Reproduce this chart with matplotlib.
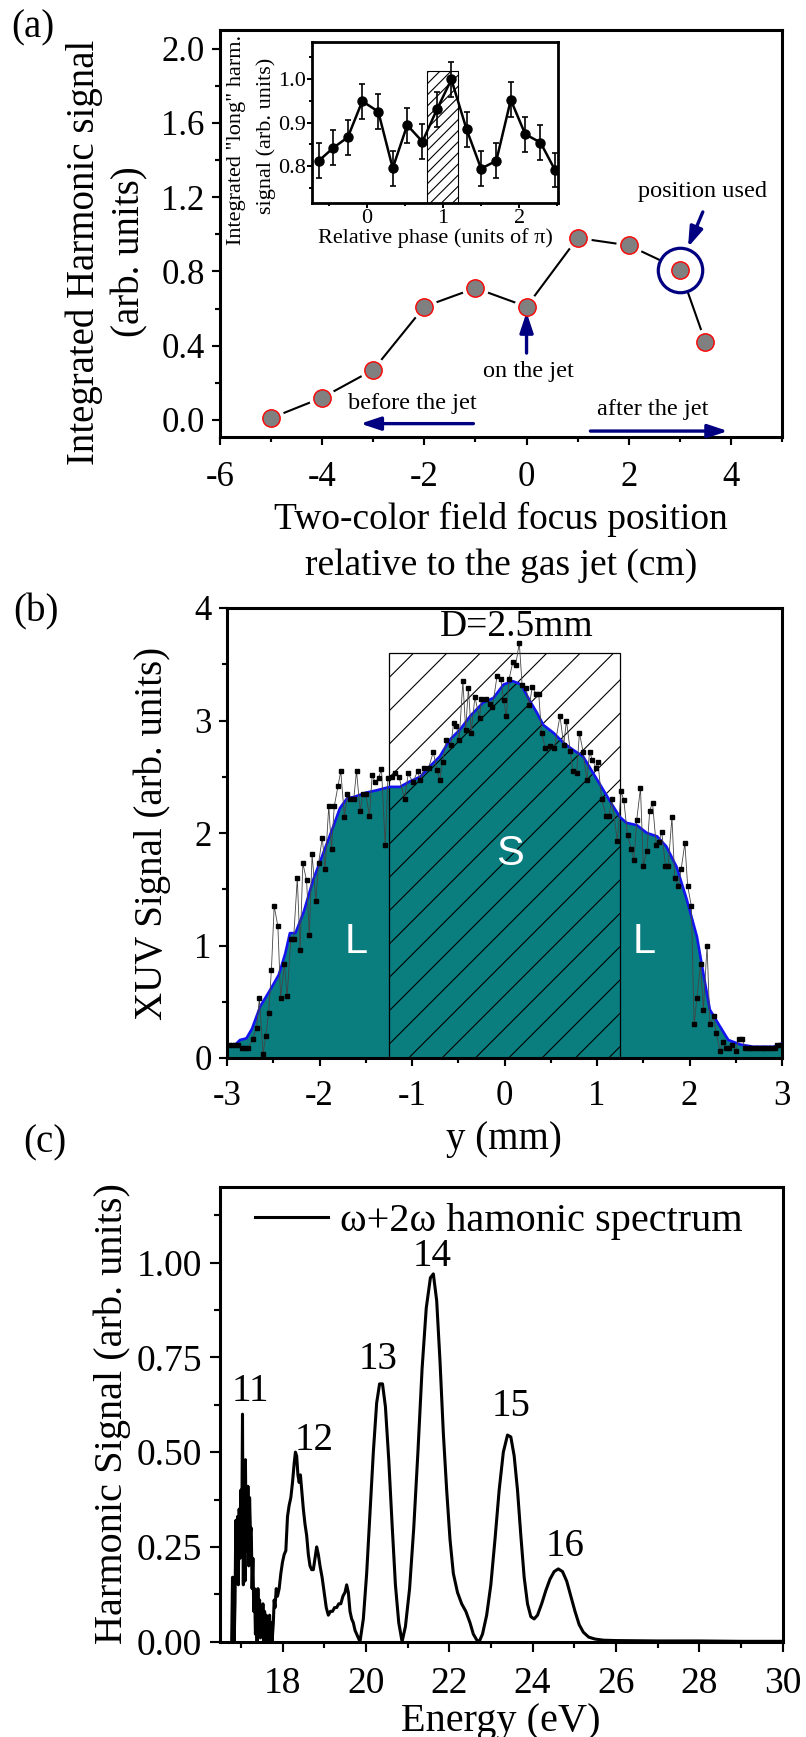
import matplotlib
matplotlib.use('Agg')
import matplotlib.pyplot as plt
from matplotlib.ticker import MultipleLocator, FormatStrFormatter

plt.rcParams['font.family'] = ['Liberation Serif', 'DejaVu Serif']
plt.rcParams['axes.unicode_minus'] = False
plt.rcParams['hatch.linewidth'] = 0.8

# ---- panel (a): focus position scan
focus_cm = [-5, -4, -3, -2, -1, 0, 1, 2, 3, 3.5]
harm_signal = [0.01, 0.12, 0.27, 0.61, 0.71, 0.61, 0.98, 0.94, 0.81, 0.42]
used_idx = 8

# inset: relative phase scan
phase_pi = [-0.63, -0.44, -0.25, -0.06, 0.15, 0.34, 0.53, 0.73, 0.92,
            1.11, 1.31, 1.50, 1.70, 1.89, 2.08, 2.28, 2.47]
long_signal = [0.812, 0.842, 0.866, 0.949, 0.925, 0.795, 0.894, 0.856, 0.930,
               0.999, 0.884, 0.794, 0.812, 0.952, 0.873, 0.854, 0.791]
long_err = [0.040, 0.040, 0.040, 0.040, 0.040, 0.040, 0.040, 0.040, 0.040,
            0.040, 0.040, 0.040, 0.040, 0.040, 0.040, 0.040, 0.040]
phase_band = [0.785, 1.20]
phase_band_top = 1.018

# ---- panel (b): XUV profile
prof_y = [-2.98, -2.95, -2.91, -2.88, -2.84, -2.81, -2.77, -2.72, -2.68, -2.65,
          -2.61, -2.58, -2.55, -2.52, -2.49, -2.45, -2.42, -2.38, -2.35, -2.31,
          -2.28, -2.24, -2.21, -2.18, -2.14, -2.11, -2.08, -2.04, -2.01, -1.97,
          -1.94, -1.90, -1.87, -1.84, -1.80, -1.77, -1.73, -1.70, -1.67, -1.63,
          -1.60, -1.56, -1.53, -1.50, -1.46, -1.43, -1.40, -1.36, -1.33, -1.29,
          -1.26, -1.22, -1.18, -1.14, -1.08, -1.04, -0.99, -0.94, -0.91, -0.87,
          -0.82, -0.77, -0.73, -0.70, -0.67, -0.63, -0.58, -0.55, -0.52, -0.49,
          -0.45, -0.42, -0.39, -0.36, -0.32, -0.27, -0.25, -0.20, -0.16, -0.13,
          -0.08, -0.04, -0.01, 0.02, 0.05, 0.09, 0.12, 0.16, 0.19, 0.23,
          0.27, 0.30, 0.34, 0.37, 0.40, 0.44, 0.49, 0.54, 0.60, 0.64,
          0.67, 0.71, 0.74, 0.78, 0.81, 0.85, 0.89, 0.92, 0.95, 0.99,
          1.01, 1.05, 1.10, 1.13, 1.16, 1.22, 1.26, 1.29, 1.33, 1.37,
          1.40, 1.43, 1.47, 1.50, 1.54, 1.57, 1.60, 1.64, 1.67, 1.70,
          1.74, 1.77, 1.81, 1.84, 1.88, 1.91, 1.95, 1.98, 2.02, 2.05,
          2.08, 2.12, 2.15, 2.19, 2.22, 2.26, 2.29, 2.33, 2.36, 2.39,
          2.43, 2.46, 2.50, 2.53, 2.57, 2.60, 2.64, 2.67, 2.71, 2.74,
          2.78, 2.81, 2.85, 2.88, 2.92, 2.95, 2.98]
prof_sig = [0.12, 0.12, 0.12, 0.12, 0.09, 0.09, 0.09, 0.17, 0.27, 0.53,
            0.04, 0.20, 0.40, 0.78, 1.35, 1.17, 0.53, 0.84, 0.55, 1.06,
            1.06, 1.60, 0.96, 1.73, 1.58, 1.09, 1.81, 1.40, 1.73, 1.96,
            1.68, 2.24, 1.86, 2.24, 2.42, 2.55, 2.14, 2.35, 2.30, 2.30,
            2.55, 2.20, 2.35, 2.35, 2.15, 2.52, 2.45, 2.49, 2.57, 1.89,
            2.49, 2.50, 2.53, 2.50, 2.30, 2.53, 2.45, 2.55, 2.47, 2.58,
            2.58, 2.72, 2.56, 2.47, 2.63, 2.83, 2.78, 2.98, 2.95, 2.83,
            3.35, 2.92, 3.29, 2.89, 3.21, 3.02, 3.19, 3.19, 3.15, 3.12,
            3.40, 3.37, 3.18, 3.04, 3.37, 3.52, 3.49, 3.69, 3.32, 3.29,
            3.14, 3.30, 3.24, 3.24, 2.89, 2.76, 2.77, 2.76, 3.04, 2.78,
            3.00, 2.73, 2.55, 2.53, 2.89, 2.72, 2.47, 2.72, 2.65, 2.58,
            2.63, 2.30, 2.15, 2.15, 2.30, 1.93, 2.37, 2.29, 1.98, 1.86,
            1.76, 2.12, 2.40, 1.71, 1.84, 2.20, 2.27, 1.89, 1.92, 2.01,
            1.71, 1.71, 2.14, 1.60, 1.53, 1.68, 1.91, 1.53, 1.35, 0.30,
            0.53, 0.84, 0.43, 1.00, 0.30, 0.37, 0.22, 0.06, 0.14, 0.09,
            0.09, 0.12, 0.06, 0.17, 0.17, 0.09, 0.09, 0.09, 0.09, 0.09,
            0.09, 0.09, 0.09, 0.09, 0.09, 0.12, 0.12]

smooth_y = [-3.00, -2.92, -2.86, -2.79, -2.73, -2.64, -2.53, -2.44, -2.37, -2.32,
            -2.26, -2.17, -2.07, -1.96, -1.85, -1.78, -1.70, -1.63, -1.49, -1.38,
            -1.24, -1.13, -1.02, -0.91, -0.81, -0.70, -0.59, -0.48, -0.37, -0.23,
            -0.12, -0.01, 0.09, 0.18, 0.27, 0.35, 0.42, 0.53, 0.64, 0.74,
            0.85, 0.96, 1.07, 1.18, 1.25, 1.32, 1.43, 1.54, 1.65, 1.75,
            1.86, 1.97, 2.08, 2.15, 2.22, 2.33, 2.42, 2.55, 2.69, 2.91, 3.00]
smooth_sig = [0.11, 0.11, 0.16, 0.175, 0.26, 0.46, 0.61, 0.74, 0.93, 1.11,
              1.11, 1.30, 1.58, 1.82, 2.06, 2.22, 2.31, 2.32, 2.36, 2.38,
              2.41, 2.41, 2.46, 2.50, 2.59, 2.68, 2.83, 2.92, 3.04, 3.16,
              3.20, 3.32, 3.35, 3.32, 3.18, 3.07, 2.96, 2.89, 2.80, 2.74,
              2.68, 2.53, 2.38, 2.23, 2.14, 2.09, 2.07, 2.00, 1.97, 1.88,
              1.70, 1.41, 1.08, 0.75, 0.43, 0.28, 0.16, 0.12, 0.10, 0.10, 0.13]
short_zone = [-1.25, 1.25]
short_zone_top = 3.6

# ---- panel (c): harmonic spectrum
energy_ev = [16.78, 16.80, 16.82, 16.84, 16.86, 16.88, 16.90, 16.92, 16.94, 16.96,
             16.98, 17.00, 17.02, 17.04, 17.05, 17.06, 17.08, 17.10, 17.11, 17.13,
             17.14, 17.16, 17.17, 17.19, 17.21, 17.23, 17.25, 17.27, 17.29, 17.31,
             17.33, 17.35, 17.37, 17.39, 17.41, 17.43, 17.45, 17.47, 17.49, 17.51,
             17.53, 17.55, 17.57, 17.59, 17.61, 17.63, 17.65, 17.67, 17.69, 17.71,
             17.73, 17.75, 17.78, 17.80, 17.82, 17.85, 17.88, 17.92, 17.96, 18.00,
             18.04, 18.08, 18.12, 18.16, 18.20, 18.24, 18.28, 18.31, 18.34, 18.37,
             18.40, 18.43, 18.46, 18.50, 18.54, 18.58, 18.62, 18.66, 18.70, 18.74,
             18.78, 18.82, 18.86, 18.90, 18.95, 19.00, 19.05, 19.10, 19.15, 19.20,
             19.25, 19.30, 19.35, 19.40, 19.45, 19.50, 19.54, 19.58, 19.62, 19.66,
             19.70, 19.74, 19.78, 19.86, 19.94, 20.02, 20.10, 20.18, 20.26, 20.33,
             20.40, 20.47, 20.55, 20.63, 20.71, 20.79, 20.87, 20.95, 21.05, 21.15,
             21.25, 21.35, 21.45, 21.55, 21.62, 21.70, 21.78, 21.86, 21.94, 22.02,
             22.10, 22.20, 22.30, 22.40, 22.50, 22.58, 22.66, 22.72, 22.80, 22.90,
             23.00, 23.10, 23.20, 23.30, 23.40, 23.48, 23.56, 23.64, 23.72, 23.80,
             23.88, 23.96, 24.04, 24.12, 24.22, 24.32, 24.42, 24.52, 24.62, 24.72,
             24.82, 24.92, 25.02, 25.12, 25.22, 25.35, 25.50, 25.70, 26.00, 27.00,
             28.00, 29.00, 30.00]
spectrum = [0.00, 0.17, 0.06, 0.00, 0.10, 0.32, 0.18, 0.33, 0.15, 0.35,
            0.22, 0.40, 0.25, 0.60, 0.30, 0.15, 0.39, 0.16, 0.48, 0.24,
            0.40, 0.28, 0.41, 0.20, 0.38, 0.29, 0.30, 0.14, 0.22, 0.08,
            0.14, 0.02, 0.08, 0.00, 0.14, 0.03, 0.11, 0.01, 0.09, 0.02,
            0.10, 0.00, 0.08, 0.02, 0.07, 0.00, 0.06, 0.01, 0.07, 0.00,
            0.05, 0.00, 0.05, 0.11, 0.09, 0.14, 0.12, 0.14, 0.18, 0.21,
            0.23, 0.24, 0.33, 0.36, 0.38, 0.42, 0.47, 0.50, 0.49, 0.44,
            0.42, 0.44, 0.40, 0.35, 0.31, 0.28, 0.23, 0.20, 0.19, 0.19,
            0.22, 0.25, 0.23, 0.20, 0.17, 0.13, 0.09, 0.07, 0.08, 0.08,
            0.09, 0.09, 0.10, 0.10, 0.12, 0.13, 0.15, 0.13, 0.08, 0.06,
            0.05, 0.03, 0.02, 0.00, 0.06, 0.18, 0.34, 0.50, 0.63, 0.68,
            0.68, 0.62, 0.48, 0.31, 0.15, 0.05, 0.00, 0.04, 0.14, 0.30,
            0.50, 0.72, 0.88, 0.96, 0.97, 0.90, 0.74, 0.55, 0.40, 0.27,
            0.18, 0.13, 0.10, 0.08, 0.05, 0.02, 0.005, 0.00, 0.02, 0.07,
            0.15, 0.27, 0.40, 0.50, 0.545, 0.54, 0.49, 0.40, 0.28, 0.17,
            0.10, 0.066, 0.06, 0.07, 0.10, 0.135, 0.165, 0.185, 0.192, 0.185,
            0.16, 0.12, 0.08, 0.045, 0.025, 0.012, 0.007, 0.004, 0.003, 0.002,
            0.002, 0.001, 0.001]
harm_orders = ['11', '12', '13', '14', '15', '16']
harm_label_x = [17.24, 18.75, 20.30, 21.60, 23.48, 24.78]
harm_label_y = [0.66, 0.53, 0.745, 1.015, 0.62, 0.25]

W, H = 806, 1737
fig = plt.figure(figsize=(W / 100, H / 100), dpi=100)


def box(l, t, r, b):
    return [l / W, 1 - b / H, (r - l) / W, (b - t) / H]


def ftext(x, y, s, **kw):
    kw.setdefault('ha', 'center')
    kw.setdefault('va', 'center')
    return fig.text(x / W, 1 - y / H, s, **kw)


def style(ax, size, xpad, ypad, lw=2.2, major=6, minor=3.5):
    for sp in ax.spines.values():
        sp.set_linewidth(lw)
    ax.tick_params(which='both', direction='out', top=False, right=False,
                   width=lw * 0.7, labelsize=size)
    ax.tick_params(which='major', length=major)
    ax.tick_params(which='minor', length=minor)
    ax.tick_params(axis='x', which='both', pad=xpad)
    ax.tick_params(axis='y', which='both', pad=ypad)


navy = '#000080'

# ================= (a)
ax1 = fig.add_axes(box(220, 30, 782, 437))
ax1.plot(focus_cm, harm_signal, color='black', lw=1.5, zorder=2)
ax1.plot(focus_cm, harm_signal, 'o', ms=19, mfc='white', mec='none', zorder=3)
ax1.plot([focus_cm[used_idx]], [harm_signal[used_idx]], 'o', ms=30, mfc='white',
         mec='none', zorder=3)
ax1.plot(focus_cm, harm_signal, 'o', ms=12.5, mfc='#808080', mec='red', mew=1.0,
         zorder=4)
ax1.plot([focus_cm[used_idx]], [harm_signal[used_idx]], 'o', ms=32, mfc='none',
         mec=navy, mew=2.3, zorder=5)
ax1.set_xlim(-6, 5)
ax1.set_ylim(-0.092, 2.10)
ax1.xaxis.set_major_locator(MultipleLocator(2))
ax1.xaxis.set_minor_locator(MultipleLocator(1))
ax1.yaxis.set_major_locator(MultipleLocator(0.4))
ax1.yaxis.set_minor_locator(MultipleLocator(0.2))
ax1.yaxis.set_major_formatter(FormatStrFormatter('%.1f'))
style(ax1, 25, 11, 5)

arrow_kw = dict(arrowstyle='-|>,head_length=0.6,head_width=0.2', color=navy,
                lw=2.4, mutation_scale=20, shrinkA=0, shrinkB=0)
ax1.annotate('', xy=(-3.25, -0.02), xytext=(-1.04, -0.02), arrowprops=arrow_kw)
ax1.annotate('', xy=(3.94, -0.06), xytext=(1.25, -0.06), arrowprops=arrow_kw)
ax1.annotate('', xy=(0, 0.58), xytext=(0, 0.36), arrowprops=arrow_kw)
ax1.annotate('', xy=(3.16, 0.93), xytext=(3.45, 1.12), arrowprops=arrow_kw)
ax1.text(-2.24, 0.09, 'before the jet', ha='center', va='center', fontsize=17.5)
ax1.text(2.47, 0.054, 'after the jet', ha='center', va='center', fontsize=17.5)
ax1.text(0.04, 0.26, 'on the jet', ha='center', va='center', fontsize=17.5)
ax1.text(3.45, 1.23, 'position used', ha='center', va='center', fontsize=17.5)

ftext(84, 252, 'Integrated Harmonic signal', rotation=90, fontsize=28)
ftext(130, 252, '(arb. units)', rotation=90, fontsize=28)
ftext(501, 519, 'Two-color field focus position', fontsize=27)
ftext(501, 566, 'relative to the gas jet (cm)', fontsize=27)
ftext(33, 28, '(a)', fontsize=28)

# inset
axi = fig.add_axes(box(312, 42, 558, 203))
axi.bar((phase_band[0] + phase_band[1]) / 2, phase_band_top - 0.715,
        width=phase_band[1] - phase_band[0], bottom=0.715, fill=False,
        hatch='///', edgecolor='black', lw=0.8, zorder=1)
axi.errorbar(phase_pi, long_signal, yerr=long_err, fmt='-o', color='black',
             ms=6.5, lw=1.8, elinewidth=1.2, capsize=2.5, capthick=1.2, zorder=3)
axi.set_xlim(-0.72, 2.51)
axi.set_ylim(0.715, 1.085)
axi.xaxis.set_major_locator(MultipleLocator(1))
axi.xaxis.set_minor_locator(MultipleLocator(0.5))
axi.yaxis.set_major_locator(MultipleLocator(0.1))
axi.yaxis.set_minor_locator(MultipleLocator(0.05))
axi.yaxis.set_major_formatter(FormatStrFormatter('%.1f'))
style(axi, 16, 1, 1, lw=2.0, major=3.5, minor=2)
ftext(236, 140, 'Integrated "long" harm.', rotation=90, fontsize=16)
ftext(266, 136, 'signal (arb. units)', rotation=90, fontsize=16)
ftext(435, 238, 'Relative phase (units of \u03c0)', fontsize=16)

# ================= (b)
teal = '#0a7d7e'
ax2 = fig.add_axes(box(227, 608, 782, 1058))
ax2.fill_between(smooth_y, smooth_sig, 0, color=teal, lw=0, zorder=1)
ax2.bar((short_zone[0] + short_zone[1]) / 2, short_zone_top,
        width=short_zone[1] - short_zone[0], bottom=0, fill=False, hatch='/',
        edgecolor='black', lw=0.9, zorder=2)
ax2.plot(smooth_y, smooth_sig, color='#1414f0', lw=1.9, zorder=3)
ax2.plot(prof_y, prof_sig, '-s', color='#444444', lw=0.6, ms=3.4, mfc='black',
         mec='black', zorder=4)
ax2.text(0.13, 3.83, 'D=2.5mm', ha='center', va='center', fontsize=27)
for xl in (-1.60, 1.51):
    ax2.text(xl, 1.03, 'L', ha='center', va='center', fontsize=30, color='white',
             family='Liberation Sans', zorder=6)
ax2.text(0.06, 1.81, 'S', ha='center', va='center', fontsize=30, color='white',
         family='Liberation Sans', zorder=6)
ax2.set_xlim(-3, 3)
ax2.set_ylim(0, 4)
ax2.xaxis.set_major_locator(MultipleLocator(1))
ax2.xaxis.set_minor_locator(MultipleLocator(0.5))
ax2.yaxis.set_major_locator(MultipleLocator(1))
ax2.yaxis.set_minor_locator(MultipleLocator(0.5))
style(ax2, 25, 10, 5)
ftext(152, 833, 'XUV Signal (arb. units)', rotation=90, fontsize=28)
ftext(504, 1139, 'y (mm)', fontsize=28)
ftext(36, 612, '(b)', fontsize=28)

# ================= (c)
ax3 = fig.add_axes(box(220, 1186.7, 782.5, 1641.7))
ax3.plot(energy_ev, spectrum, color='black', lw=2.2,
         label='\u03c9+2\u03c9 hamonic spectrum')
for lab, hx, hy in zip(harm_orders, harm_label_x, harm_label_y):
    ax3.text(hx, hy, lab, ha='center', va='center', fontsize=28)
ax3.set_xlim(16.5, 30)
ax3.set_ylim(0, 1.2)
ax3.xaxis.set_major_locator(MultipleLocator(2))
ax3.xaxis.set_minor_locator(MultipleLocator(1))
ax3.yaxis.set_major_locator(MultipleLocator(0.25))
ax3.yaxis.set_minor_locator(MultipleLocator(0.125))
ax3.yaxis.set_major_formatter(FormatStrFormatter('%.2f'))
style(ax3, 27, 11, 6, major=7, minor=4)
ax3.legend(loc='center left', bbox_to_anchor=((255 - 220) / 562.5, (1641.7 - 1221) / 455),
           frameon=False, fontsize=29, handlelength=1.8, handletextpad=0.3,
           borderpad=0, borderaxespad=0)
ftext(112, 1414, 'Harmonic Signal (arb. units)', rotation=90, fontsize=29)
ftext(501, 1721, 'Energy (eV)', fontsize=29)
ftext(45, 1143, '(c)', fontsize=28)

fig.savefig('out.png', dpi=100)
